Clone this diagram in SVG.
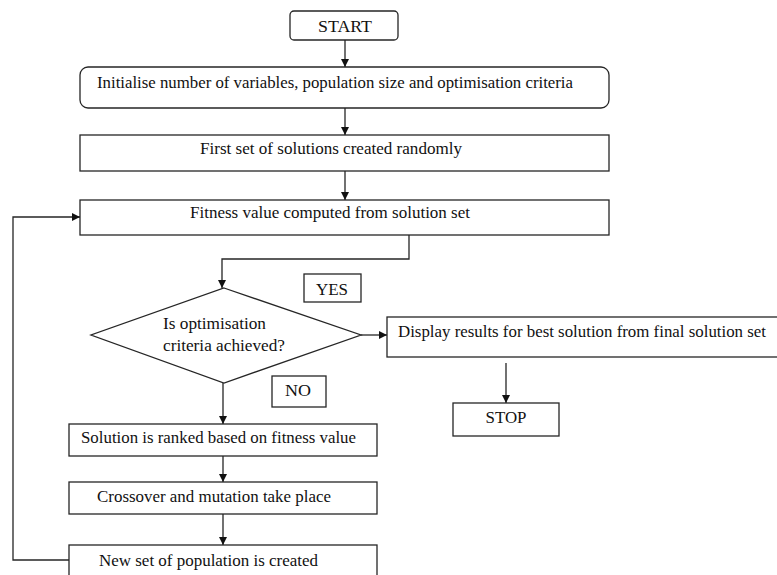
<svg xmlns="http://www.w3.org/2000/svg" width="777" height="575" viewBox="0 0 777 575">
<style>
.b{fill:#fff;stroke:#262626;stroke-width:1.3}
.c{fill:none;stroke:#262626;stroke-width:1.3}
text{font-family:"Liberation Serif","Times New Roman",serif;font-size:17px;fill:#111}
.m{text-anchor:middle}
</style>
<defs>
<marker id="ah" viewBox="0 0 10 10" refX="10" refY="5" markerWidth="8" markerHeight="8" markerUnits="userSpaceOnUse" orient="auto">
<path d="M0,0 L10,5 L0,10 Z" fill="#111"/>
</marker>
</defs>
<rect width="777" height="575" fill="#fff"/>
<g id="connectors">
<line class="c" x1="345" y1="40" x2="345" y2="67" marker-end="url(#ah)"/>
<line class="c" x1="345" y1="108" x2="345" y2="135" marker-end="url(#ah)"/>
<line class="c" x1="345" y1="171" x2="345" y2="200" marker-end="url(#ah)"/>
<polyline class="c" points="409,235 409,259 222,259 222,288" marker-end="url(#ah)"/>
<line class="c" x1="361" y1="335" x2="387" y2="335" marker-end="url(#ah)"/>
<line class="c" x1="506" y1="363" x2="506" y2="403" marker-end="url(#ah)"/>
<line class="c" x1="223" y1="383" x2="223" y2="424" marker-end="url(#ah)"/>
<line class="c" x1="223" y1="456" x2="223" y2="482" marker-end="url(#ah)"/>
<line class="c" x1="223" y1="514" x2="223" y2="545" marker-end="url(#ah)"/>
<polyline class="c" points="69,560 13,560 13,217 80,217" marker-end="url(#ah)"/>
</g>
<g id="start">
<rect class="b" x="290" y="11" width="108" height="29" rx="4"/>
<text class="m" x="345" y="32" textLength="54" lengthAdjust="spacingAndGlyphs">START</text>
</g>
<g id="init">
<rect class="b" x="80" y="67" width="529" height="41" rx="8"/>
<text x="97" y="88" textLength="476" lengthAdjust="spacingAndGlyphs">Initialise number of variables, population size and optimisation criteria</text>
</g>
<g id="first">
<rect class="b" x="80" y="135" width="529" height="36"/>
<text x="200" y="154" textLength="262" lengthAdjust="spacingAndGlyphs">First set of solutions created randomly</text>
</g>
<g id="fitness">
<rect class="b" x="80" y="200" width="529" height="35"/>
<text x="190" y="218" textLength="280" lengthAdjust="spacingAndGlyphs">Fitness value computed from solution set</text>
</g>
<g id="decision">
<polygon class="b" points="224,288 361,335 224,383 91,335"/>
<text x="163" y="329" textLength="103" lengthAdjust="spacingAndGlyphs">Is optimisation</text>
<text x="163" y="351" textLength="122" lengthAdjust="spacingAndGlyphs">criteria achieved?</text>
</g>
<g id="yes">
<rect class="b" x="304" y="274" width="57" height="28"/>
<text class="m" x="332" y="295" textLength="32" lengthAdjust="spacingAndGlyphs">YES</text>
</g>
<g id="no">
<rect class="b" x="272" y="376" width="54" height="31"/>
<text class="m" x="298" y="396" textLength="26" lengthAdjust="spacingAndGlyphs">NO</text>
</g>
<g id="display">
<rect class="b" x="387" y="317" width="400" height="40"/>
<text x="398" y="337" textLength="368" lengthAdjust="spacingAndGlyphs">Display results for best solution from final solution set</text>
</g>
<g id="stop">
<rect class="b" x="453" y="403" width="106" height="33"/>
<text class="m" x="506" y="423" textLength="41" lengthAdjust="spacingAndGlyphs">STOP</text>
</g>
<g id="ranked">
<rect class="b" x="69" y="424" width="308" height="32"/>
<text x="81" y="443" textLength="275" lengthAdjust="spacingAndGlyphs">Solution is ranked based on fitness value</text>
</g>
<g id="crossover">
<rect class="b" x="69" y="482" width="308" height="32"/>
<text x="97" y="502" textLength="234" lengthAdjust="spacingAndGlyphs">Crossover and mutation take place</text>
</g>
<g id="newset">
<rect class="b" x="69" y="545" width="308" height="40"/>
<text x="99" y="566" textLength="219" lengthAdjust="spacingAndGlyphs">New set of population is created</text>
</g>
</svg>
